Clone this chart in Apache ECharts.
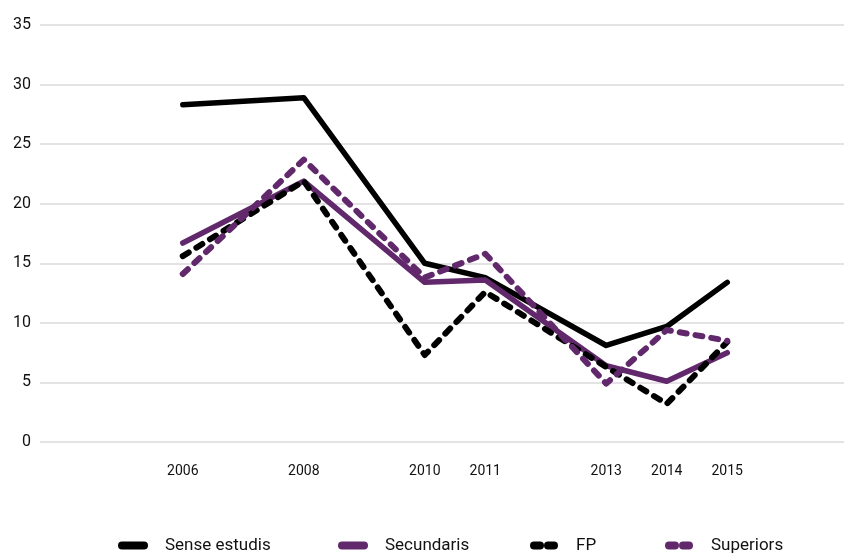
<!DOCTYPE html>
<html>
<head>
<meta charset="utf-8">
<script src="https://cdn.jsdelivr.net/npm/echarts@6/dist/echarts.min.js"></script>
<style>
  html, body { margin: 0; padding: 0; background: #fff; }
  #chart { width: 844px; height: 555px; }
</style>
</head>
<body>
<div id="chart"></div>
<script>
var years = [2006, 2008, 2010, 2011, 2013, 2014, 2015]
var senseEstudis = [28.3, 28.9, 15.0, 13.8, 8.1, 9.7, 13.4]
var secundaris = [16.7, 21.9, 13.4, 13.6, 6.4, 5.1, 7.5]
var fp = [15.6, 21.9, 7.3, 12.6, 6.3, 3.2, 8.4]
var superiors = [14.1, 23.7, 13.8, 15.8, 4.9, 9.4, 8.5]
var yTicks = [0, 5, 10, 15, 20, 25, 30, 35]

var purple = '#61296b'
var font = 'Roboto'
var solidIcon = 'path://M4,0 L26,0 A4,4 0 0 1 26,8 L4,8 A4,4 0 0 1 4,0 Z'
var dashIcon = 'path://M4,0 L10,0 A4,4 0 0 1 10,8 L4,8 A4,4 0 0 1 4,0 Z M18,0 L24,0 A4,4 0 0 1 24,8 L18,8 A4,4 0 0 1 18,0 Z'

function pairs(vals) {
  return years.map(function (y, i) { return [y, vals[i]] })
}

function makeSeries(name, vals, color, dashed) {
  return {
    name: name,
    type: 'line',
    data: pairs(vals),
    symbol: 'none',
    z: dashed ? 3 : 2,
    lineStyle: {
      color: color,
      width: dashed ? 6 : 5.5,
      type: dashed ? [7, 9] : 'solid',
      cap: 'round',
      join: 'round'
    },
    itemStyle: { color: color }
  }
}

// one legend per entry so each sits where the reference has it
function legendItem(name, icon, left) {
  return {
    top: 532,
    left: left,
    itemWidth: 30,
    itemHeight: 8,
    textStyle: { fontFamily: font, fontSize: 17, color: '#111', padding: [0, 0, 0, 12] },
    data: [{ name: name, icon: icon }]
  }
}

var chart = echarts.init(document.getElementById('chart'))
chart.setOption({
  animation: false,
  grid: { left: 40, right: 0, top: 25, bottom: 113 },
  legend: [
    legendItem('Sense estudis', solidIcon, 113),
    legendItem('Secundaris', solidIcon, 333),
    legendItem('FP', dashIcon, 525),
    legendItem('Superiors', dashIcon, 660)
  ],
  xAxis: {
    type: 'value',
    min: 2003.64,
    max: 2016.93,
    splitLine: { show: false },
    axisLine: { show: false },
    axisTick: { show: false },
    axisLabel: {
      customValues: years,
      margin: 22,
      fontFamily: font,
      fontSize: 14,
      color: '#111',
      formatter: function (v) { return String(v) }
    }
  },
  yAxis: {
    type: 'value',
    min: 0,
    max: 35,
    interval: 5,
    axisLine: { show: false },
    axisTick: { show: false },
    splitLine: { lineStyle: { color: '#dcd8dc', width: 1.5 } },
    axisLabel: {
      customValues: yTicks,
      margin: 9,
      fontFamily: font,
      fontSize: 16,
      color: '#111'
    }
  },
  series: [
    makeSeries('Sense estudis', senseEstudis, '#000', false),
    makeSeries('Secundaris', secundaris, purple, false),
    makeSeries('FP', fp, '#000', true),
    makeSeries('Superiors', superiors, purple, true)
  ]
})
</script>
</body>
</html>
